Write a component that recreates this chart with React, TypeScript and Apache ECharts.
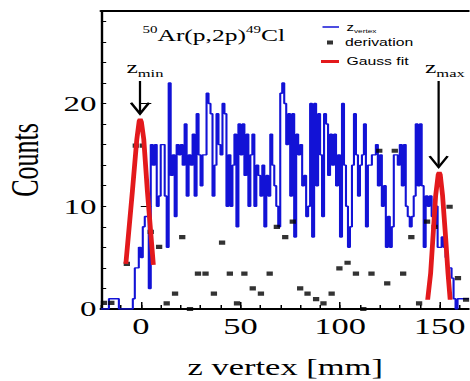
import React, { useEffect, useRef } from 'react';
import * as echarts from 'echarts';

// ---- data ----
const BIN_START = -20; // mm, left edge of first bin
const BIN_WIDTH = 1; // mm
const zVertexCounts = [
  // -20 .. -5
  0, 0, 0, 0, 1, 1, 1, 1, 1, 0, 0, 0, 0, 0, 0, 0,
  // -4 .. 10
  1, 4, 4, 6, 5, 8, 9, 9, 2, 16, 14, 16, 10, 11, 16,
  // 11 .. 42
  16, 11, 6, 22, 13, 15, 9, 16, 15, 16, 14, 18, 11, 15, 14, 17, 11, 19, 15, 12, 15, 15, 21, 20, 19, 11, 14, 19, 16, 15, 20, 19,
  // 43 .. 73
  10, 15, 10, 14, 17, 8, 18, 15, 18, 13, 17, 10, 15, 17, 10, 14, 13, 11, 14, 8, 13, 11, 17, 14, 12, 10, 8, 21, 22, 20, 16,
  // 74 .. 104
  19, 11, 19, 7, 17, 15, 16, 12, 13, 9, 10, 20, 7, 20, 12, 19, 15, 9, 19, 18, 13, 17, 14, 17, 12, 15, 7, 20, 14, 10, 6,
  // 105 .. 135
  8, 14, 19, 15, 11, 14, 15, 18, 8, 14, 14, 15, 15, 16, 12, 15, 10, 12, 6, 9, 6, 8, 15, 15, 14, 16, 12, 16, 10, 9, 8,
  // 136 .. 164
  9, 11, 18, 12, 18, 12, 6, 11, 10, 11, 9, 8, 10, 6, 6, 7, 6, 5, 4, 4, 3, 1, 0, 1, 1, 1, 1, 1, 1,
];

const derivationPoints: [number, number][] = [
  [-18.5, 0.6], [-14.8, 0.6], [-7, 4.4], [-2.5, 15.9], [1, 15.9], [5, 7.5], [9.2, 6.05], [13, 0.55],
  [17.2, 1.5], [20.8, 7.0], [24.7, 0], [28.7, 3.45], [32.5, 3.45], [36.7, 1.5], [40.8, 6.45],
  [44.7, 3.45], [48.3, 0.55], [52, 3.45], [56.2, 2.0], [60.3, 1.5], [64.7, 3.45], [68.3, 8.0],
  [72.5, 7.0], [76.3, 8.5], [80, 2.0], [83.7, 1.5], [88, 0.97], [91.7, 0.55], [95.8, 1.5],
  [99.7, 3.95], [103.8, 4.5], [108, 3.45], [111.7, 0], [115.8, 3.45], [119.7, 15.4], [123.7, 2.5],
  [127.5, 15.4], [131.7, 3.45], [135.8, 7.0], [139.7, 0.55], [143.7, 8.5], [147.5, 8.0],
  [155, 9.95], [159.2, 3.0], [163.3, 0.9],
];

const gaussMinPoints: [number, number][] = [
  [-7.5, 4.4], [-4.2, 11.5], [-2, 16.5], [-0.8, 18.3], [-0.3, 18.5], [0.3, 18.2], [1.5, 16.5], [3.3, 11.5], [6.3, 4.3],
];
const gaussMaxPoints: [number, number][] = [
  [144, 0.9], [145.5, 3.5], [146.5, 6.5], [148, 11], [149.3, 13.1], [149.8, 13.3], [150.3, 13.1], [151.5, 11], [153, 7], [154.2, 3.5], [155.3, 0.9],
];

const arrowX = [-0.4, 149.5];
const arrowTop = [22.2, 22.2];
const arrowTip = [19.0, 13.8];
const arrowSub = ['min', 'max'];

const xLabelStep = 50;
const yLabelStep = 10;

export default function App() {
  const ref = useRef<HTMLDivElement>(null);
  useEffect(() => {
    document.body.style.overflow = 'hidden';
    const chart = echarts.init(ref.current!, null, { renderer: 'svg' });
    const serif = "'Liberation Serif', 'Times New Roman', serif";
    const sans = "'Liberation Sans', Arial, sans-serif";
    const blue = '#1212d6';
    const red = '#e3191c';

    const n = zVertexCounts.length;
    const histData: [number, number][] = [[BIN_START, zVertexCounts[0]]];
    zVertexCounts.forEach((c, i) => histData.push([BIN_START + (i + 0.5) * BIN_WIDTH, c]));
    histData.push([BIN_START + n * BIN_WIDTH, zVertexCounts[n - 1]]);
    const xMax = BIN_START + n * BIN_WIDTH;

    const arrowData = arrowX.map((x, i) => [x, arrowTop[i], arrowTip[i]]);

    const option: any = {
      animation: false,
      textStyle: { fontFamily: serif },
      title: {
        text: '{sup|50}{m|Ar(p,2p)}{sup|49}{m|Cl}',
        left: 95,
        top: 25,
        padding: 0,
        textStyle: {
          fontFamily: serif,
          fontWeight: 'normal',
          color: '#000',
          rich: {
            m: { fontFamily: serif, fontSize: 17, lineHeight: 22, color: '#000' },
            sup: { fontFamily: serif, fontSize: 10, lineHeight: 10, verticalAlign: 'top', color: '#000' },
          },
        },
      },
      legend: [
        {
          data: [{ name: 'z_vertex', icon: 'rect' }],
          left: 215, top: 22, padding: 0, itemWidth: 11, itemHeight: 1.3,
          selectedMode: false,
          formatter: () => '{z|z}{v|vertex}',
          textStyle: {
            color: '#000',
            rich: {
              z: { fontFamily: sans, fontSize: 10, lineHeight: 14, color: '#000' },
              v: { fontFamily: sans, fontSize: 5.5, lineHeight: 6, verticalAlign: 'bottom', color: '#000' },
            },
          },
        },
        {
          data: [{ name: 'derivation', icon: 'rect' }],
          left: 218, top: 37, padding: 0, itemWidth: 4, itemHeight: 4,
          selectedMode: false,
          textStyle: { fontFamily: sans, fontSize: 10.5, color: '#000', padding: [0, 0, 0, 3] },
        },
        {
          data: [{ name: 'Gauss fit', icon: 'rect' }],
          left: 214, top: 56, padding: 0, itemWidth: 12, itemHeight: 3,
          selectedMode: false,
          textStyle: { fontFamily: sans, fontSize: 10.5, color: '#000' },
        },
      ],
      grid: { left: 67.3, top: 11, right: 0, bottom: 72, containLabel: false, outerBoundsMode: 'none' },
      xAxis: [
        {
          type: 'value', min: BIN_START, max: xMax, interval: 10,
          axisLine: { show: true, onZero: false, lineStyle: { color: '#000', width: 2 } },
          axisTick: { show: true, inside: true, length: 4, lineStyle: { color: '#000', width: 1 } },
          minorTick: { show: false },
          axisLabel: {
            formatter: (v: number) => (v % xLabelStep === 0 ? String(v) : ''),
            fontFamily: serif, fontSize: 23, color: '#000', margin: 6,
          },
          splitLine: { show: false },
          name: 'z vertex [mm]', nameLocation: 'middle', nameGap: 47,
          nameTextStyle: { fontFamily: serif, fontSize: 23, color: '#000' },
        },
        {
          type: 'value', position: 'top', min: BIN_START, max: xMax,
          axisLine: { show: true, onZero: false, lineStyle: { color: '#000', width: 2 } },
          axisTick: { show: false }, axisLabel: { show: false }, splitLine: { show: false },
        },
        {
          type: 'value', position: 'bottom', min: BIN_START, max: xMax,
          axisLine: { show: false },
          axisTick: { show: true, inside: true, length: 7, customValues: [0, 50, 100, 150], lineStyle: { color: '#000', width: 1 } },
          axisLabel: { show: false }, splitLine: { show: false },
        },
      ],
      yAxis: [
        {
          type: 'value', min: 0, max: 29, interval: 2,
          axisLine: { show: true, onZero: false, lineStyle: { color: '#000', width: 1.6 } },
          axisTick: { show: true, inside: true, length: 3.5, lineStyle: { color: '#000', width: 1 } },
          axisLabel: {
            formatter: (v: number) => (v % yLabelStep === 0 ? String(v) : ''),
            fontFamily: serif, fontSize: 22, color: '#000', margin: 3,
          },
          splitLine: { show: false },
          name: 'Counts', nameLocation: 'middle', nameGap: 38,
          nameTextStyle: { fontFamily: serif, fontSize: 26, color: '#000' },
        },
        {
          type: 'value', min: 0, max: 29, interval: 10, position: 'left',
          axisLine: { show: false },
          axisTick: { show: true, inside: true, length: 7, lineStyle: { color: '#000', width: 1 } },
          axisLabel: { show: false }, splitLine: { show: false },
        },
      ],
      series: [
        {
          name: 'z_vertex', type: 'line', step: 'middle', data: histData,
          showSymbol: false, symbol: 'none',
          lineStyle: { color: blue, width: 1.4 }, itemStyle: { color: blue },
          z: 2,
        },
        {
          name: 'derivation', type: 'scatter', data: derivationPoints,
          symbol: 'rect', symbolSize: [4.2, 4.2],
          itemStyle: { color: '#000' }, z: 3,
        },
        {
          name: 'Gauss fit', type: 'line', data: gaussMinPoints, showSymbol: false, symbol: 'none',
          lineStyle: { color: red, width: 3.2 }, itemStyle: { color: red }, z: 4,
        },
        {
          name: 'Gauss fit', type: 'line', data: gaussMaxPoints, showSymbol: false, symbol: 'none',
          lineStyle: { color: red, width: 3.2 }, itemStyle: { color: red }, z: 4,
        },
        {
          name: 'arrows', type: 'custom', data: arrowData, z: 5, silent: true, clip: false,
          renderItem: (params: any, api: any) => {
            const x = api.value(0);
            const p1 = api.coord([x, api.value(1)]);
            const p2 = api.coord([x, api.value(2)]);
            const sub = arrowSub[params.dataIndex];
            return {
              type: 'group',
              children: [
                { type: 'line', shape: { x1: p1[0], y1: p1[1], x2: p2[0], y2: p2[1] }, style: { stroke: '#000', lineWidth: 1.5 } },
                {
                  type: 'polyline',
                  shape: { points: [[p2[0] - 6, p2[1] - 11], [p2[0], p2[1]], [p2[0] + 6, p2[1] - 11]] },
                  style: { stroke: '#000', lineWidth: 1.8, fill: null },
                },
                {
                  type: 'text', x: p1[0] - 9, y: p1[1] - 5,
                  style: { text: 'z', font: `17px ${serif}`, fill: '#000', align: 'left', verticalAlign: 'bottom' },
                },
                {
                  type: 'text', x: p1[0] - 1.5, y: p1[1] - 1.5,
                  style: { text: sub, font: `11px ${serif}`, fill: '#000', align: 'left', verticalAlign: 'bottom' },
                },
              ],
            };
          },
        },
      ],
    };
    chart.setOption(option);
    return () => chart.dispose();
  }, []);
  return (
    <div
      ref={ref}
      style={{
        position: 'absolute', left: 0, top: 0, width: 313, height: 381,
        transform: 'scaleX(1.5)', transformOrigin: '0 0', background: '#fff',
      }}
    />
  );
}
